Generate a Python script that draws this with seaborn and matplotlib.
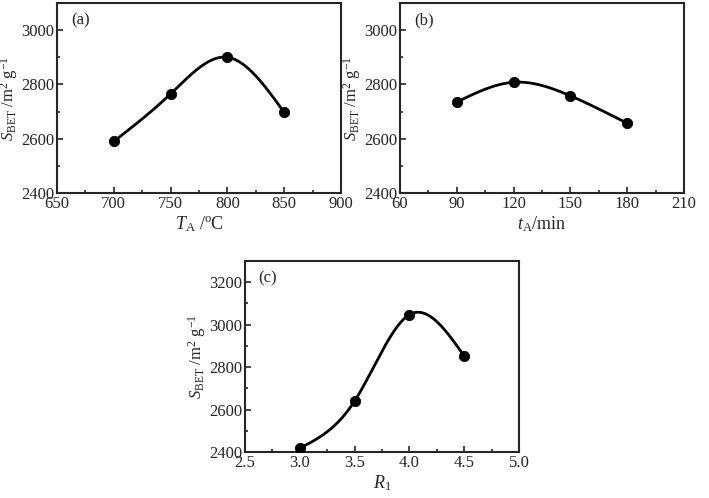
import numpy as np
import matplotlib
matplotlib.use("Agg")
import matplotlib.pyplot as plt
import seaborn as sns
from matplotlib.ticker import AutoMinorLocator

sns.set_style("ticks")
plt.rcParams["font.family"] = "Liberation Serif"
plt.rcParams["mathtext.fontset"] = "custom"
plt.rcParams["mathtext.rm"] = "Liberation Serif"
plt.rcParams["mathtext.it"] = "Liberation Serif:italic"

ta = [700, 750, 800, 850]
sa = [2590, 2765, 2900, 2697]
tb = [90, 120, 150, 180]
sb = [2735, 2808, 2758, 2657]
rc = [3.0, 3.5, 4.0, 4.5]
sc = [2418, 2640, 3047, 2852]

def spline(x, y, n=200):
    x = np.asarray(x, float); y = np.asarray(y, float)
    m = len(x); h = np.diff(x)
    A = np.zeros((m, m)); r = np.zeros(m)
    A[0, 0] = A[-1, -1] = 1
    for i in range(1, m - 1):
        A[i, i-1] = h[i-1]; A[i, i] = 2*(h[i-1]+h[i]); A[i, i+1] = h[i]
        r[i] = 3*((y[i+1]-y[i])/h[i] - (y[i]-y[i-1])/h[i-1])
    c = np.linalg.solve(A, r)
    xs = np.linspace(x[0], x[-1], n); ys = np.empty_like(xs)
    for k, xv in enumerate(xs):
        i = min(np.searchsorted(x, xv, side="right") - 1, m - 2)
        d = xv - x[i]
        b = (y[i+1]-y[i])/h[i] - h[i]*(2*c[i]+c[i+1])/3
        dd = (c[i+1]-c[i])/(3*h[i])
        ys[k] = y[i] + b*d + c[i]*d**2 + dd*d**3
    return xs, ys

fig = plt.figure(figsize=(7.09, 4.98), dpi=100)
W, H = 709, 498
def ax_at(l, r, t, b):
    return fig.add_axes([l/W, 1-b/H, (r-l)/W, (b-t)/H])

axes = [ax_at(57, 341, 3, 193), ax_at(400, 684, 3, 193), ax_at(245, 519, 261, 452)]
data = [(ta, sa, (650, 900), (2400, 3100), [650, 700, 750, 800, 850, 900], [2400, 2600, 2800, 3000], r"$T_{\mathrm{A}}$ /$^{\mathrm{o}}$C", "(a)"),
        (tb, sb, (60, 210), (2400, 3100), [60, 90, 120, 150, 180, 210], [2400, 2600, 2800, 3000], r"$t_{\mathrm{A}}$/min", "(b)"),
        (rc, sc, (2.5, 5.0), (2400, 3300), [2.5, 3.0, 3.5, 4.0, 4.5, 5.0], [2400, 2600, 2800, 3000, 3200], r"$R_{\mathrm{1}}$", "(c)")]

for ax, (x, y, xl, yl, xt, yt, xlab, tag) in zip(axes, data):
    xs, ys = spline(x, y)
    sns.lineplot(x=xs, y=ys, ax=ax, color="black", lw=2)
    sns.scatterplot(x=x, y=y, ax=ax, color="black", s=55, edgecolor="black", zorder=5)
    ax.set_xlim(*xl); ax.set_ylim(*yl)
    ax.set_xticks(xt); ax.set_yticks(yt)
    if tag == "(c)":
        ax.set_xticklabels([f"{v:.1f}" for v in xt])
    ax.xaxis.set_minor_locator(AutoMinorLocator(2))
    ax.yaxis.set_minor_locator(AutoMinorLocator(2))
    ax.tick_params(direction="in", which="both", top=False, right=False, labelsize=12, width=1.2, pad=2)
    ax.tick_params(which="major", length=4)
    ax.tick_params(which="minor", length=2.5)
    for s in ax.spines.values():
        s.set_linewidth(1.5)
    ax.set_xlabel(xlab, fontsize=13, labelpad=2)
    ax.set_ylabel(r"$S_{\mathrm{BET}}$ /m$^{2}$ g$^{-1}$", fontsize=12, labelpad=1)
    ax.text(0.05, 0.95, tag, transform=ax.transAxes, fontsize=12, va="top")

fig.savefig("out.png", dpi=100)
